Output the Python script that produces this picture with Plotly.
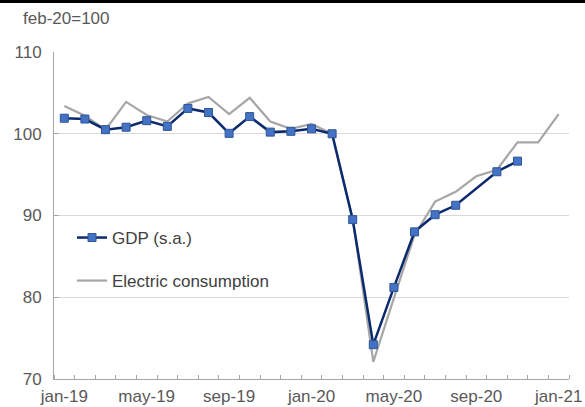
import plotly.graph_objects as go

months = ["jan-19", "feb-19", "mar-19", "apr-19", "may-19", "jun-19", "jul-19", "aug-19",
          "sep-19", "oct-19", "nov-19", "dec-19", "jan-20", "feb-20", "mar-20", "apr-20",
          "may-20", "jun-20", "jul-20", "aug-20", "sep-20", "oct-20", "nov-20", "dec-20",
          "jan-21"]
gdp = [101.9, 101.8, 100.5, 100.8, 101.6, 100.9, 103.1, 102.6, 100.05, 102.1, 100.2, 100.3,
       100.6, 100.0, 89.5, 74.2, 81.2, 88.0, 90.1, 91.25, None, 95.35, 96.65, None, None]
elec = [103.4, 102.2, 100.5, 103.9, 102.3, 101.5, 103.7, 104.5, 102.4, 104.4, 101.5, 100.6,
        101.2, 100.0, 89.6, 72.1, 79.9, 87.6, 91.7, 92.9, 94.8, 95.6, 98.95, 98.95, 102.4]
tick_labels = ["jan-19", "may-19", "sep-19", "jan-20", "may-20", "sep-20", "jan-21"]
y_ticks = [70, 80, 90, 100, 110]

x_idx = list(range(len(months)))
FONT = "Liberation Sans, Arial, sans-serif"
TXT = "#595959"

fig = go.Figure()
fig.add_trace(go.Scatter(
    x=x_idx, y=elec, name="Electric consumption", mode="lines",
    line=dict(color="#A6A6A6", width=2.2), legend="legend2",
    customdata=months, hovertemplate="%{customdata}: %{y}<extra></extra>"))
fig.add_trace(go.Scatter(
    x=x_idx, y=gdp, name="GDP (s.a.)", mode="lines+markers", connectgaps=True,
    line=dict(color="#0B2A6E", width=2.5),
    marker=dict(symbol="square", size=8, color="#4472C4", line=dict(color="#2F5597", width=1)),
    legend="legend",
    customdata=months, hovertemplate="%{customdata}: %{y}<extra></extra>"))

W, H = 585, 407
L, R, T, B = 54, 16, 52, 28
pw, ph = W - L - R, H - T - B

def px_x(px):
    return (px - L) / pw

def px_y(py):
    return (H - B - py) / ph

fig.update_layout(
    width=W, height=H,
    margin=dict(l=L, r=R, t=T, b=B, autoexpand=False),
    paper_bgcolor="white", plot_bgcolor="white",
    font=dict(family=FONT, size=17, color=TXT),
    showlegend=True,
    legend=dict(x=px_x(72), y=px_y(238), xanchor="left", yanchor="middle",
                bgcolor="rgba(0,0,0,0)", font=dict(size=17, color="#404040"),
                itemwidth=30),
    legend2=dict(x=px_x(72), y=px_y(281), xanchor="left", yanchor="middle",
                 bgcolor="rgba(0,0,0,0)", font=dict(size=17, color="#404040"),
                 itemwidth=30),
    xaxis=dict(
        range=[-0.5, len(months) - 0.5],
        tickmode="array",
        tickvals=[months.index(t) for t in tick_labels],
        ticktext=tick_labels,
        ticks="", showgrid=False, zeroline=False, automargin=False,
        showline=True, linecolor="#A6A6A6", linewidth=1,
        tickfont=dict(size=17, color=TXT),
        ticklabelstandoff=2,
        minor=dict(ticks="inside", tick0=-0.5, dtick=1, ticklen=4,
                   tickcolor="#A6A6A6", tickwidth=1, showgrid=False),
    ),
    yaxis=dict(
        range=[70, 110], tickmode="array", tickvals=y_ticks,
        showgrid=True, gridcolor="#D9D9D9", gridwidth=1, zeroline=False, automargin=False,
        showline=True, linecolor="#A6A6A6", linewidth=1,
        ticks="inside", ticklen=5, tickcolor="#A6A6A6",
        tickfont=dict(size=17, color=TXT),
        ticklabelstandoff=8,
    ),
    annotations=[dict(
        text="feb-20=100", xref="paper", yref="paper",
        x=px_x(21), y=px_y(19), xanchor="left", yanchor="middle",
        showarrow=False, font=dict(size=17, color=TXT))],
    shapes=[dict(
        type="rect", xref="paper", yref="paper",
        x0=px_x(0), x1=px_x(W), y0=px_y(3), y1=px_y(0),
        fillcolor="black", line=dict(width=0), layer="above")],
)

fig.write_html("out.html", config={"displayModeBar": False},
               post_script="document.body.style.margin='0';document.body.style.padding='0';")
